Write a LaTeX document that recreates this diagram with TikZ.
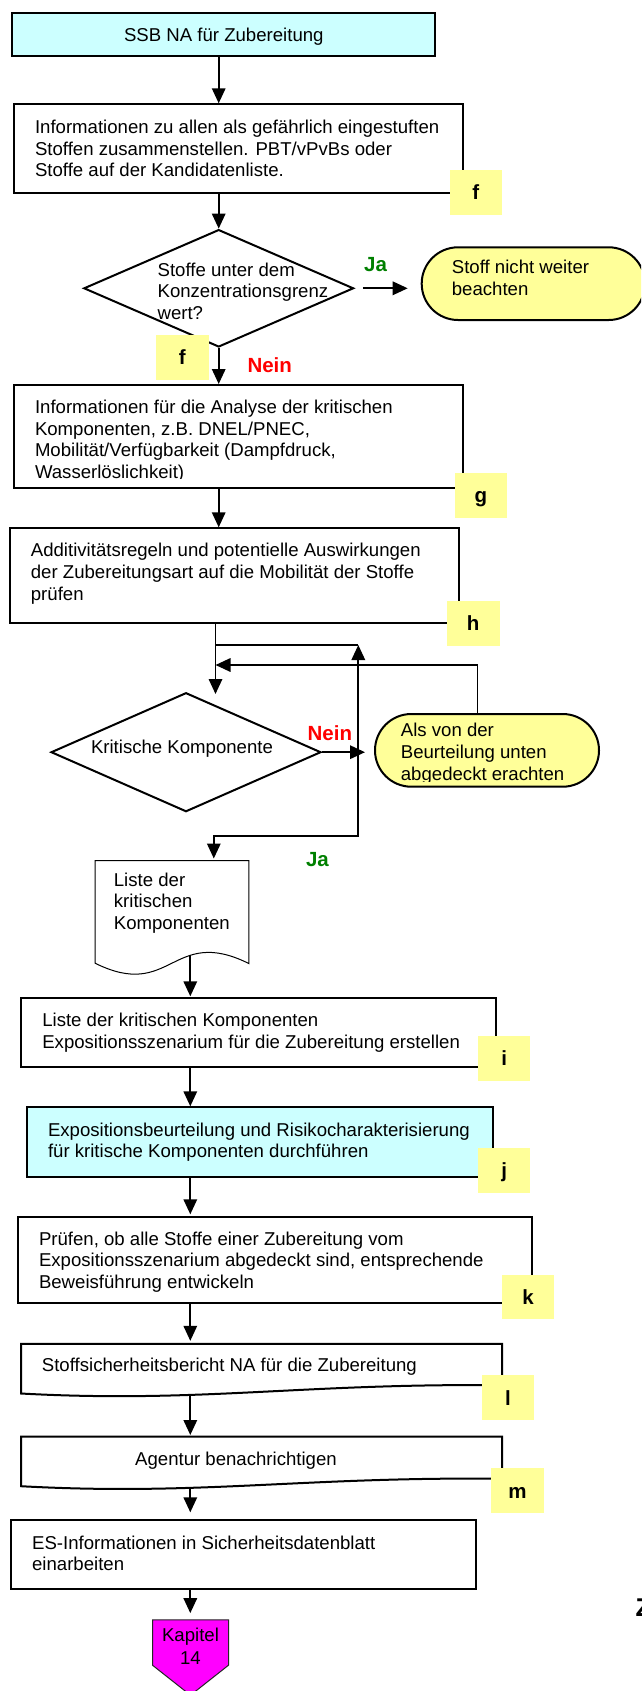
\documentclass[tikz,border=0pt]{standalone}
\usepackage{fontspec}
\setmainfont{Liberation Sans}
\usetikzlibrary{arrows.meta,shapes.geometric,calc}

\definecolor{boxcyan}{HTML}{CCFFFF}
\definecolor{tagyellow}{HTML}{FFFF99}
\definecolor{chapmagenta}{HTML}{FF00FF}
\definecolor{yesgreen}{HTML}{008000}
\definecolor{nored}{HTML}{FF0000}

\newcommand{\bodyfont}{\fontsize{18.6}{21.6}\selectfont}
\newcommand{\tagfont}{\bfseries\fontsize{20.5}{24}\selectfont}

\begin{document}
\begin{tikzpicture}[x=1pt,y=-1pt,
  flowbox/.style={draw, line width=2pt, rectangle, inner sep=0pt, fill=white},
  decision/.style={draw, line width=2pt, diamond, inner sep=0pt, fill=white},
  terminal/.style={draw, line width=2pt, rectangle, rounded corners=36.3pt, inner sep=0pt, fill=tagyellow},
  anchorbox/.style={rectangle, inner sep=0pt},
  tag/.style={rectangle, fill=tagyellow, inner sep=0pt, minimum width=52pt, minimum height=45pt,
              text height=14.7pt, text depth=0pt, font=\tagfont},
  txt/.style={anchor=north west, inner sep=0pt, align=left, font=\bodyfont},
  txtline/.style={anchor=base west, inner sep=0pt, font=\bodyfont},
  answer/.style={anchor=base west, inner sep=0pt, font=\tagfont},
  conn/.style={line width=1.7pt},
  arr/.style={conn, -{Triangle[length=15pt,width=13.5pt]}},
  twoway/.style={conn, {Triangle[length=15pt,width=13.5pt]}-{Triangle[length=15pt,width=13.5pt]}},
]
\path[use as bounding box, fill=white] (0,0) rectangle (641,1691);
\begin{scope}
\clip (0,0) rectangle (641,1691);

% ---- spine coordinates for the vertical connectors
\coordinate (s1) at (218.7,0);
\coordinate (s2) at (215.5,0);
\coordinate (s3) at (213.8,0);
\coordinate (s4) at (190.3,0);
\coordinate (loopTop) at (358.3,645);
\coordinate (loopLow) at (358.3,836);
\coordinate (fbTop) at (477.5,665);

% ---- boxes and decisions
\node[flowbox, fill=boxcyan, minimum width=423.1pt, minimum height=43.3pt] (b1) at (223.85,34.35) {};
\node[flowbox, minimum width=448.5pt, minimum height=88.4pt] (b2) at (238.55,148.5) {};
\node[decision, minimum width=269.8pt, minimum height=117.4pt] (d1) at (218.7,288.3) {};
\node[terminal, minimum width=223.3pt, minimum height=72.7pt] (o1) at (533.35,283.65) {};
\node[flowbox, minimum width=448.5pt, minimum height=103.3pt] (b3) at (238.55,436.65) {};
\node[flowbox, minimum width=448.5pt, minimum height=94.4pt] (b4) at (234.45,575.5) {};
\node[decision, minimum width=269.9pt, minimum height=119pt] (d2) at (186,752.2) {};
\node[terminal, minimum width=224pt, minimum height=72.7pt] (o2) at (487,750.35) {};

% document shape with a wavy lower edge
\node[anchorbox, minimum width=153.3pt, minimum height=102.3pt] (doc) at (171.95,911.85) {};
\draw[line width=1pt, fill=white] (doc.south west) -- (doc.north west) -- (doc.north east)
  -- ($(doc.south east)+(0,0.3)$)
  .. controls ($(doc.south west)+(76.7,-38)$) and ($(doc.south west)+(76.7,38)$) .. (doc.south west) -- cycle;

\node[flowbox, minimum width=474.7pt, minimum height=68.4pt] (bi) at (258.65,1032.5) {};
\node[flowbox, fill=boxcyan, minimum width=465.6pt, minimum height=69.4pt] (bj) at (259.8,1142) {};
\node[flowbox, minimum width=513.5pt, minimum height=85.4pt] (bk) at (274.75,1260) {};

% report boxes with a slightly curved lower edge
\node[anchorbox, minimum width=480.7pt, minimum height=49.3pt] (bl) at (261.65,1368.65) {};
\draw[line width=2pt, fill=white] (bl.south west) -- (bl.north west) -- (bl.north east)
  -- ($(bl.south east)+(0,-8.3)$)
  .. controls ($(bl.south east)+(-202,-10.3)$) and ($(bl.south west)+(178.7,9.7)$) .. (bl.south west) -- cycle;
\node[anchorbox, minimum width=480.7pt, minimum height=49.3pt] (bm) at (261.65,1461.35) {};
\draw[line width=2pt, fill=white] (bm.south west) -- (bm.north west) -- (bm.north east)
  -- ($(bm.south east)+(0,-7.5)$)
  .. controls ($(bm.south east)+(-202,-9.5)$) and ($(bm.south west)+(178.7,9.7)$) .. (bm.south west) -- cycle;

\node[flowbox, minimum width=465.3pt, minimum height=69pt] (bes) at (243.65,1554.5) {};

% off-page connector
\node[anchorbox, minimum width=75.6pt, minimum height=45pt] (kap) at (190.5,1642.5) {};
\draw[line width=1pt, draw=black!85, fill=chapmagenta] (kap.north west) -- (kap.north east)
  -- (kap.south east) -- ($(kap.south)+(0,30)$) -- (kap.south west) -- cycle;

% ---- texts
\node[anchor=base, inner sep=0pt, font=\bodyfont] (t1) at (223.8,41.7) {SSB NA für Zubereitung};
\node[txt] (t2) at (34.8,119.3) {\rule{0pt}{14pt}Informationen zu allen als gefährlich eingestuften\\Stoffen zusammenstellen. PBT/vPvBs oder\\Stoffe auf der Kandidatenliste.};
\node[txt] (td1) at (157.4,262) {\rule{0pt}{14pt}Stoffe unter dem\\Konzentrationsgrenz\\wert?};
\node[txt] (to1) at (451.7,259.3) {\rule{0pt}{14pt}Stoff nicht weiter\\beachten};
\begin{scope}
  \clip (0,380) rectangle (641,478.5);
  \node[txt] (t3) at (34.8,399.3) {\rule{0pt}{14pt}Informationen für die Analyse der kritischen\\Komponenten, z.B. DNEL/PNEC,\\Mobilität/Verfügbarkeit (Dampfdruck,\\Wasserlöslichkeit)};
\end{scope}
\node[txt] (t4) at (30.7,542.6) {\rule{0pt}{14pt}Additivitätsregeln und potentielle Auswirkungen\\der Zubereitungsart auf die Mobilität der Stoffe\\prüfen};
\node[txtline] (td2) at (90.8,753.3) {Kritische Komponente};
\begin{scope}
  \clip (0,700) rectangle (641,781);
  \node[txt] (to2) at (400.7,722.6) {\rule{0pt}{14pt}Als von der\\Beurteilung unten\\abgedeckt erachten};
\end{scope}
\node[txt] (tdoc) at (113.7,871.9) {\rule{0pt}{14pt}Liste der\\kritischen\\Komponenten};
\node[txt] (ti) at (42.1,1012.6) {\rule{0pt}{14pt}Liste der kritischen Komponenten\\Expositionsszenarium für die Zubereitung erstellen};
\node[txt, font=\fontsize{18.6}{20.5}\selectfont] (tj) at (47.8,1122.6) {\rule{0pt}{14pt}Expositionsbeurteilung und Risikocharakterisierung\\für kritische Komponenten durchführen};
\node[txt] (tk) at (38.8,1230.9) {\rule{0pt}{14pt}Prüfen, ob alle Stoffe einer Zubereitung vom\\Expositionsszenarium abgedeckt sind, entsprechende\\Beweisführung entwickeln};
\node[txtline] (tl) at (41.7,1371.6) {Stoffsicherheitsbericht NA für die Zubereitung};
\node[anchor=base, inner sep=0pt, font=\bodyfont] (tm) at (236,1465) {Agentur benachrichtigen};
\node[txt] (tes) at (31.9,1534.9) {\rule{0pt}{14pt}ES-Informationen in Sicherheitsdatenblatt\\einarbeiten};
\node[anchor=north, inner sep=0pt, align=center, font=\fontsize{18.6}{22.3}\selectfont] (tkap) at (190.5,1627.7) {\rule{0pt}{14pt}Kapitel\\14};

% ---- yes / no answers
\node[answer, text=yesgreen] (ja1) at (363.9,271.7) {Ja};
\node[answer, text=nored] (nein1) at (247.3,372.7) {Nein};
\node[answer, text=nored] (nein2) at (307.4,740) {Nein};
\node[answer, text=yesgreen] (ja2) at (305.8,866) {Ja};

% ---- connectors
\draw[arr] (b1.south -| s1) -- (b2.north -| s1);
\draw[arr] (b2.south -| d1.north) -- (d1.north);
\draw[arr] (d1.south) -- (b3.north -| d1.south);
\draw[arr, shorten <=8.2pt, shorten >=13pt] (d1.east) -- (o1.west |- d1.east);
\draw[arr] (b3.south -| s1) -- (b4.north -| s1);
\draw[arr] (b4.south -| s2) -- ($(d2.north -| s2)+(0,2.3)$);
\draw[conn] (loopTop -| s2) -- (loopTop);
\draw[twoway, shorten >=2pt] (loopTop) -- (loopLow) -- (loopLow -| s3) -- (doc.north -| s3);
\draw[arr] (o2.north -| fbTop) -- (fbTop) -- (fbTop -| s2);
\draw[arr, shorten >=9pt] (d2.east) -- (o2.west |- d2.east);
\draw[arr, shorten >=1pt] ($(doc.south -| s4)+(0,-8)$) -- (bi.north -| s4);
\draw[arr] (bi.south -| s4) -- (bj.north -| s4);
\draw[arr, shorten >=2pt] (bj.south -| s4) -- (bk.north -| s4);
\draw[arr, shorten >=3pt] (bk.south -| s4) -- (bl.north -| s4);
\draw[arr, shorten >=1.5pt] ($(bl.south -| s4)+(0,1.5)$) -- (bm.north -| s4);
\draw[arr, shorten >=6.7pt] ($(bm.south -| s4)+(0,2)$) -- (bes.north -| s4);
\draw[arr, shorten >=6.7pt] (bes.south -| s4) -- (kap.north -| s4);

% ---- reference tags
\node[tag, minimum width=52.3pt] (tagf1) at (475.85,192.5) {f};
\node[tag, minimum width=52.5pt] (tagf2) at (182.25,357.5) {f};
\node[tag, minimum height=44.4pt] (tagg) at (481,495.5) {g};
\node[tag, minimum width=52.8pt] (tagh) at (473.2,623.5) {h};
\node[tag, minimum width=51.7pt] (tagi) at (504.15,1058.5) {i};
\node[tag, minimum width=51.7pt, minimum height=44.7pt] (tagj) at (504.15,1170.35) {j};
\node[tag, minimum height=44.3pt] (tagk) at (528,1297.15) {k};
\node[tag, minimum width=51.1pt, minimum height=44.7pt] (tagl) at (507.95,1397.65) {l};
\node[tag, minimum width=52.3pt] (tagm) at (517.55,1490.8) {m};

% letter cut by the right margin
\node[anchor=base west, inner sep=0pt, font=\bfseries\fontsize{25.7}{30}\selectfont] (zcut) at (635.5,1616.7) {Z};
\end{scope}
\end{tikzpicture}
\end{document}
